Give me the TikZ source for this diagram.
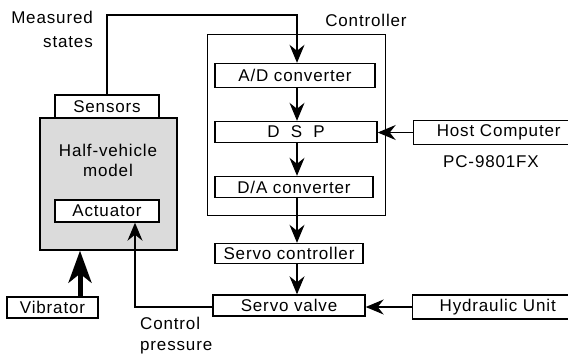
\documentclass[tikz,border=0pt]{standalone}
\usepackage{fontspec}
\setmainfont{Liberation Sans}[LetterSpace=5]
\usetikzlibrary{arrows.meta}

\begin{document}
\begin{tikzpicture}[x=1pt,y=-1pt,
  font=\fontsize{17}{21}\selectfont,
  blk/.style={draw, line width=1.4pt, fill=white, inner sep=0pt, minimum height=22pt},
  arr/.style={line width=1.1pt, -{Stealth[length=18pt,width=15pt,inset=6pt]}},
  bigarr/.style={line width=5pt, -{Stealth[length=32pt,width=23pt,inset=9pt]}},
  lbl/.style={inner sep=0pt}]
\useasboundingbox (0,0) rectangle (568,354);
\clip (0,0) rectangle (568,354);

% controller enclosure
\node[draw, line width=0.7pt, minimum width=178pt, minimum height=181pt, inner sep=0pt] (ctrlbox) at (296,124.5) {};
\node[lbl] (ctrllbl) at (366,20) {Controller};

% controller internals
\node[blk, minimum width=160pt, minimum height=24pt] (ad) at (295,75.5) {A/D converter};
\node[blk, minimum width=162pt, minimum height=21pt] (dsp) at (296,132) {D~~S~~P};
\node[blk, minimum width=158pt, minimum height=21pt] (da) at (294,187) {D/A converter};

% servo chain
\node[blk, minimum width=148pt, minimum height=20pt] (servoc) at (289,253.5) {Servo controller};
\node[blk, minimum width=152pt, minimum height=21pt] (servov) at (289,305.5) {Servo valve};

% external units
\node[blk, anchor=west, minimum width=170pt, minimum height=24pt, text width=140pt, align=center] (host) at (413,132.5) {Host Computer};
\node[lbl] (pc) at (491,162) {PC-9801FX};
\node[blk, anchor=west, minimum width=170pt, minimum height=24pt, text width=140pt, align=center] (hyd) at (412,307) {Hydraulic Unit};

% vehicle model
\node[draw, line width=1.4pt, fill=black!14, minimum width=137pt, minimum height=132pt, inner sep=0pt] (model) at (108.5,184) {};
\node[lbl, align=center, font=\fontsize{17}{20}\selectfont] (modeltxt) at (108,160) {Half-vehicle\\model};
\node[blk, minimum width=104pt, minimum height=23pt] (sensors) at (107,106.5) {Sensors};
\node[blk, minimum width=104pt, minimum height=22pt] (actuator) at (107,211) {Actuator};
\node[blk, minimum width=91pt, minimum height=21pt] (vibrator) at (52.5,307.5) {Vibrator};

% labels
\node[lbl, align=right, anchor=east, font=\fontsize{17}{24}\selectfont] (meas) at (93,29) {Measured\\states};
\node[lbl, align=left, anchor=west] (cpress) at (140,336) {Control\\pressure};

% connectors
\coordinate (mtop) at (297,15);
\coordinate (cp) at (135,307);
\coordinate (vb) at (80,0);
\draw[arr] (sensors.north) |- (mtop) -- (mtop |- ad.north);
\draw[arr] (ad.south -| mtop) -- (dsp.north -| mtop);
\draw[arr] (dsp.south -| mtop) -- (da.north -| mtop);
\draw[arr] (da.south -| mtop) -- (servoc.north -| mtop);
\draw[arr] (servoc.south -| mtop) -- (servov.north -| mtop);
\draw[arr] (host.west) -- (dsp.east |- host.west);
\draw[arr] (hyd.west) -- (servov.east |- hyd.west);
\draw[arr] (servov.west |- cp) -- (cp) -- (cp |- actuator.south);
\draw[bigarr] (vibrator.north -| vb) -- (model.south -| vb);
\end{tikzpicture}
\end{document}
